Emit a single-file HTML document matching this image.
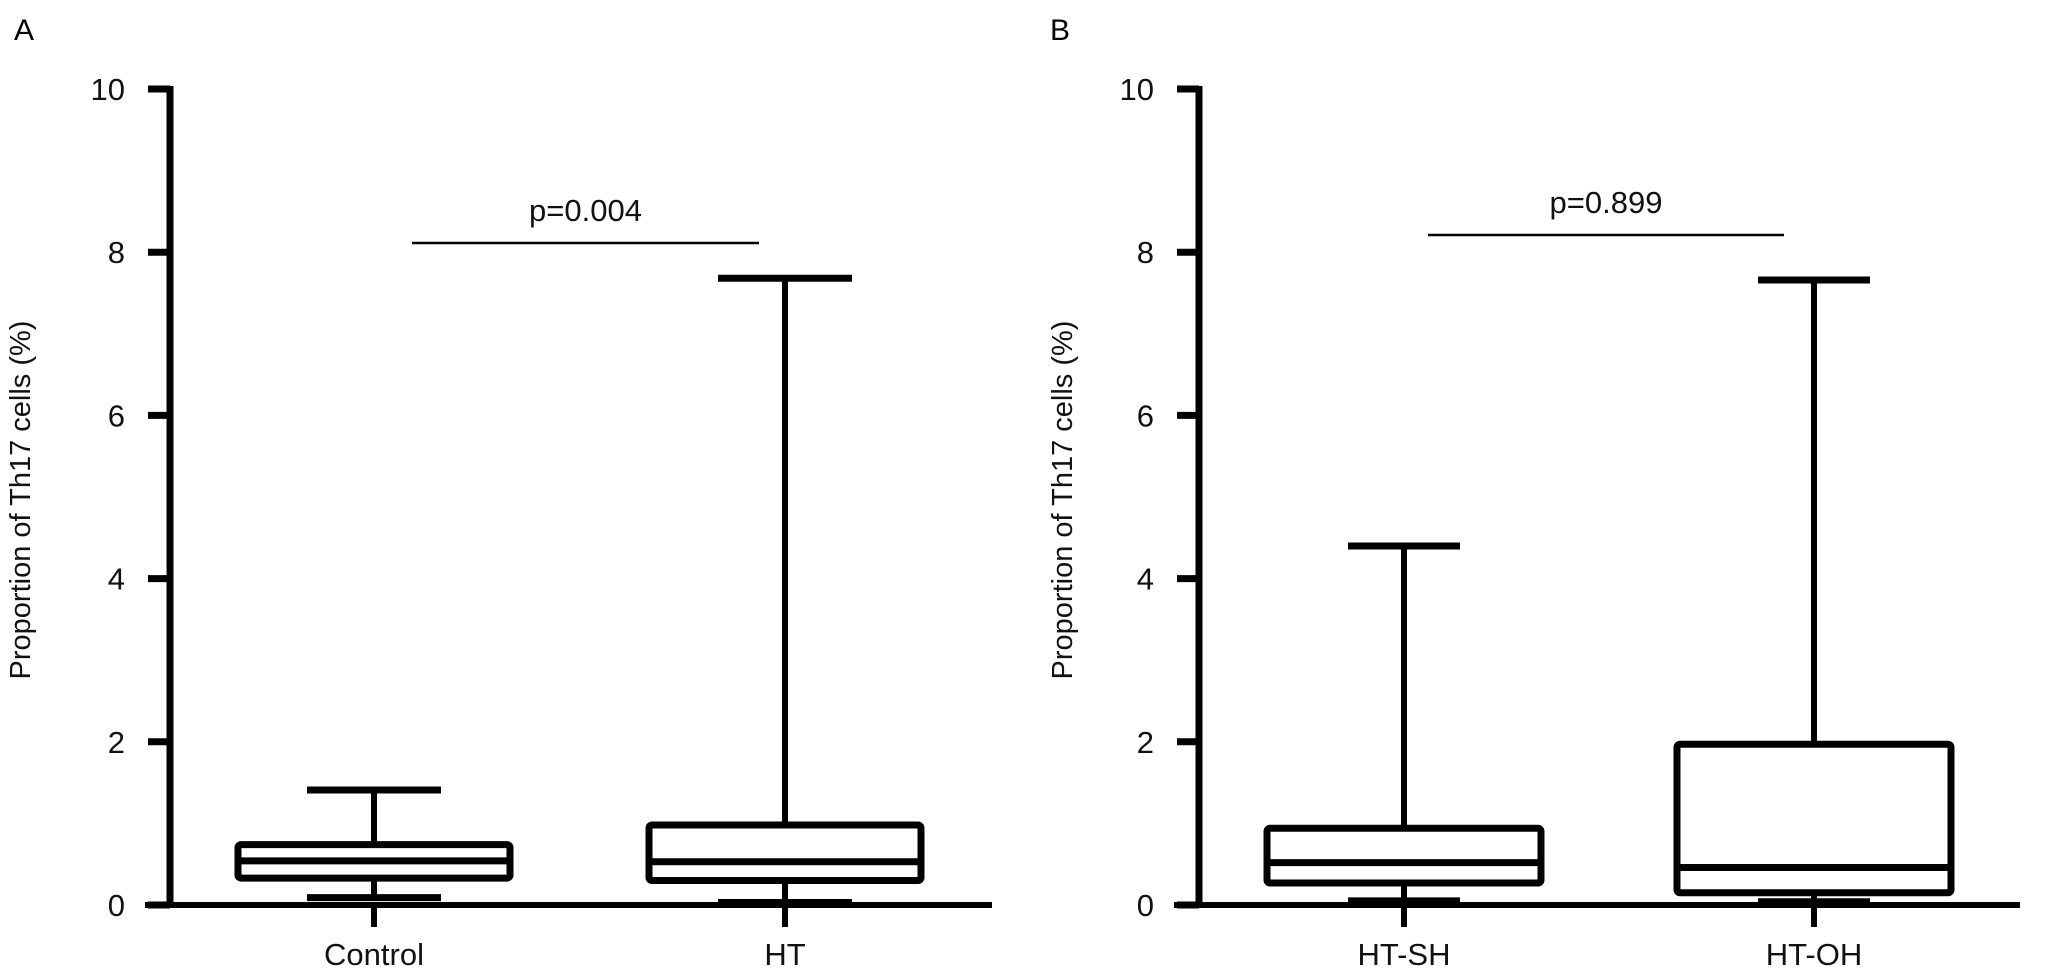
<!DOCTYPE html>
<html><head><meta charset="utf-8"><style>
html,body{margin:0;padding:0;background:#fff;}
svg{display:block;font-family:"Liberation Sans",Arial,sans-serif;}
</style></head><body>
<svg id="chart" width="2046" height="977" viewBox="0 0 2046 977" xmlns="http://www.w3.org/2000/svg">
<text x="14" y="40" font-size="30">A</text>
<text x="1050" y="40" font-size="30">B</text>
</svg>
<script>
const yTicks = [0, 2, 4, 6, 8, 10];
const catsA = ["Control", "HT"];
const minA = [0.09, 0.03];
const q1A = [0.33, 0.30];
const medA = [0.54, 0.53];
const q3A = [0.74, 0.98];
const maxA = [1.41, 7.68];
const pA = "p=0.004";
const catsB = ["HT-SH", "HT-OH"];
const minB = [0.05, 0.04];
const q1B = [0.27, 0.15];
const medB = [0.52, 0.46];
const q3B = [0.94, 1.97];
const maxB = [4.4, 7.66];
const pB = "p=0.899";

const svg = document.getElementById('chart');
const NS = 'http://www.w3.org/2000/svg';
function mk(tag, attrs, parent) {
  const e = document.createElementNS(NS, tag);
  for (const k in attrs) e.setAttribute(k, attrs[k]);
  (parent || svg).appendChild(e);
  return e;
}

function panel(id, axisX, axisEnd, centers, boxHalf, capHalf, cats, mins, q1, med, q3, maxs, pText, pY, pX1, pX2, titleX) {
  const y0 = 905, y10 = 89;
  const ys = v => y0 - (v / 10) * (y0 - y10);
  const g = mk('g', {});
  
  
  const ya = mk('line', {x1: axisX, y1: y10 - 3, x2: axisX, y2: y0 + 3, stroke: '#000', 'stroke-width': 7}, g);
  
  
  const xa = mk('line', {x1: axisX - 25, y1: y0, x2: axisEnd, y2: y0, stroke: '#000', 'stroke-width': 6}, g);
  
  
  yTicks.forEach(t => {
    const y = ys(t);
    const tk = mk('line', {x1: axisX - 22, y1: y, x2: axisX, y2: y, stroke: '#000', 'stroke-width': 7}, g);
    
    
    const tl = mk('text', {x: axisX - 45, y: y + 11, 'font-size': 31, 'text-anchor': 'end', fill: '#111'}, g);
    tl.textContent = t;
    
    
  });
  const tt = mk('text', {x: titleX, y: 500, 'font-size': 29, 'text-anchor': 'middle', fill: '#111', transform: 'rotate(-90 ' + titleX + ' 500)'}, g);
  tt.textContent = 'Proportion of Th17 cells (%)';
  
  
  cats.forEach((c, i) => {
    const cx = centers[i];
    const ct = mk('line', {x1: cx, y1: y0, x2: cx, y2: 927, stroke: '#000', 'stroke-width': 6}, g);
    
    
    const cl = mk('text', {x: cx, y: 965, 'font-size': 31, 'text-anchor': 'middle', fill: '#111'}, g);
    cl.textContent = c;
    
    
    const bg = mk('g', {}, g);
    
    
    mk('line', {x1: cx, y1: ys(maxs[i]), x2: cx, y2: ys(q3[i]), stroke: '#000', 'stroke-width': 6}, bg);
    mk('line', {x1: cx, y1: ys(q1[i]), x2: cx, y2: ys(mins[i]), stroke: '#000', 'stroke-width': 6}, bg);
    mk('line', {x1: cx - capHalf, y1: ys(maxs[i]), x2: cx + capHalf, y2: ys(maxs[i]), stroke: '#000', 'stroke-width': 7}, bg);
    mk('line', {x1: cx - capHalf, y1: ys(mins[i]), x2: cx + capHalf, y2: ys(mins[i]), stroke: '#000', 'stroke-width': 7}, bg);
    mk('rect', {x: cx - boxHalf, y: ys(q3[i]), width: 2 * boxHalf, height: ys(q1[i]) - ys(q3[i]), fill: '#fff', stroke: '#000', 'stroke-width': 7, rx: 3}, bg);
    mk('line', {x1: cx - boxHalf, y1: ys(med[i]), x2: cx + boxHalf, y2: ys(med[i]), stroke: '#000', 'stroke-width': 7}, bg);
  });
  const pl = mk('line', {x1: pX1, y1: pY, x2: pX2, y2: pY, stroke: '#000', 'stroke-width': 2.5}, g);
  
  
  const pt = mk('text', {x: (pX1 + pX2) / 2, y: pY - 22, 'font-size': 31, 'text-anchor': 'middle', fill: '#111'}, g);
  pt.textContent = pText;
  
  
}

panel('panel-a', 170, 992, [374, 785], 136, 67, catsA, minA, q1A, medA, q3A, maxA, pA, 243, 412, 759, 30);
panel('panel-b', 1199, 2020, [1404, 1814], 137, 56, catsB, minB, q1B, medB, q3B, maxB, pB, 235, 1428, 1784, 1072);
</script>
</body></html>
